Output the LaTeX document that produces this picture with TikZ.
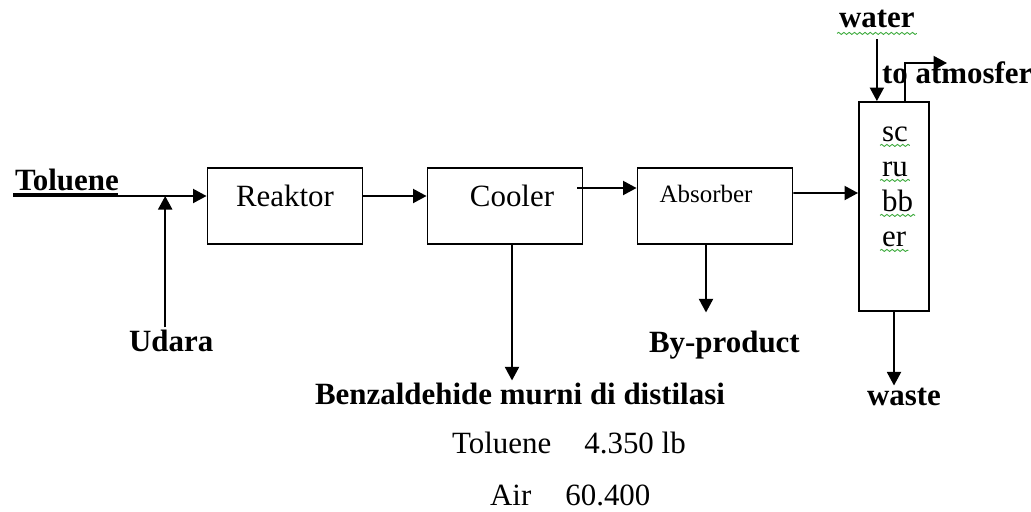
\documentclass[tikz,border=0pt]{standalone}
\usepackage{fontspec}
\setmainfont{Liberation Serif}
\usetikzlibrary{arrows.meta,calc,decorations.pathmorphing}
\definecolor{spellgreen}{RGB}{60,170,60}

\begin{document}
\begin{tikzpicture}
  [x=0.02cm,y=-0.02cm,
   txt/.style={inner sep=1pt,font=\fontsize{17.6}{20}\selectfont},
   lbl/.style={inner sep=1pt,font=\fontsize{17.6}{20}\selectfont\bfseries},
   unit/.style={draw,line width=1.1pt,minimum width=3.1cm,inner xsep=0pt,inner ysep=0pt,
     font=\fontsize{17.6}{20}\selectfont,text height=0.76cm,text depth=0.76cm},
   flow/.style={line width=1.1pt,-{Triangle[length=0.27cm,width=0.28cm]}},
   spell/.style={draw=spellgreen,line width=0.5pt,decorate,
     decoration={snake,amplitude=0.6pt,segment length=3pt}}]
  \useasboundingbox (0,0) rectangle (1031,511);

  % units
  \node[unit] (reaktor) at (285,206) {Reaktor};
  \node[unit] (cooler) at (505,206) {\hspace*{0.28cm}Cooler};
  \node[unit,font=\fontsize{14.2}{16}\selectfont,text height=0.68cm,text depth=0.84cm]
    (absorber) at (715,206) {Absorber\hspace*{0.36cm}};
  \node[draw,line width=1.1pt,minimum width=1.4cm,minimum height=4.18cm,inner sep=0pt]
    (scrubber) at (894,206.5) {};
  \foreach \syl [count=\i] in {sc,ru,bb,er}
    \node[txt,anchor=base west] (syl\i) at (880,106+35*\i) {\syl};

  % stream labels
  \node[lbl,anchor=base west] (toluene) at (13,190) {Toluene};
  \node[lbl,anchor=base west] (udara) at (127,351) {Udara};
  \node[lbl,anchor=base west] (benz) at (313,404) {Benzaldehide murni di distilasi};
  \node[lbl,anchor=base west] (byprod) at (647,352) {By-product};
  \node[lbl,anchor=base west] (water) at (837,27) {water};
  \node[lbl,anchor=base west] (atmo) at (880,83) {to atmosfer};
  \node[lbl,anchor=base west] (waste) at (865,405) {waste};
  \node[txt,anchor=base west] (tolamt) at (450,453) {Toluene\hspace{1.07em}4.350 lb};
  \node[txt,anchor=base west] (airamt) at (488,505) {Air\hspace{1.1em}60.400};

  % streams
  \coordinate (tolin) at (13,196);
  \draw[line width=1.1pt] (toluene.base west) ++(0,4) -- ++(105,0);
  \draw[flow] (tolin) -- (tolin -| reaktor.west);
  \coordinate (udtop) at ($(udara.north)+(-6,0)$);
  \draw[flow] (udtop) -- (udtop |- tolin);
  \draw[flow] ([yshift=0.2cm]reaktor.east) -- ([yshift=0.2cm]cooler.west);
  \draw[flow] ([xshift=-0.12cm,yshift=0.36cm]cooler.east) -- ([yshift=0.36cm]absorber.west);
  \draw[flow] ([yshift=0.26cm]absorber.east) -- ([yshift=0.27cm]scrubber.west);
  \coordinate (coolbot) at ($(cooler.south)+(7,0)$);
  \draw[flow] (coolbot) -- (coolbot |- benz.north);
  \coordinate (absbot) at ($(absorber.south)+(-9,0)$);
  \draw[flow,shorten >=0.32cm] (absbot) -- (absbot |- byprod.north);
  \draw[flow,shorten <=0.2cm] (water.south) -- (water.south |- scrubber.north);
  \coordinate (vent) at (947,63);
  \draw[flow] ([xshift=0.22cm]scrubber.north) |- (vent);
  \draw[flow] (scrubber.south) -- (scrubber.south |- waste.north);

  % spelling marks
  \draw[spell] ([yshift=-0.08cm]water.south west) -- ([yshift=-0.08cm]water.south east);
  \foreach \i in {1,...,4}
    \draw[spell] ([yshift=-0.04cm]syl\i.south west) -- ([yshift=-0.04cm]syl\i.south east);
\end{tikzpicture}
\end{document}
